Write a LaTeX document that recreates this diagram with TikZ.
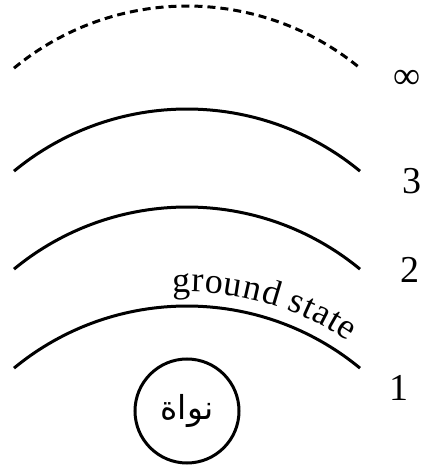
\documentclass[tikz,border=0pt]{standalone}
\usepackage{fontspec}
\setmainfont{Liberation Serif}
\newfontfamily\arabicfont[Script=Arabic]{DejaVu Sans}
\newfontfamily\symfont{DejaVu Serif}
\TeXXeTstate=1
\usetikzlibrary{decorations.text}
\tikzset{
  orbit/.style={line width=3pt},
  orbitdash/.style={line width=3pt, dash pattern=on 8pt off 5pt},
  lvl/.style={font=\fontsize{38}{42}\selectfont, inner sep=0pt},
  nucleus/.style={draw, circle, line width=3pt, minimum size=104pt, inner sep=0pt}
}
\newcommand{\gsfont}{\fontsize{36}{40}\selectfont}
\begin{document}
\begin{tikzpicture}
\useasboundingbox (0pt,0pt) rectangle (422pt,469pt);
% orbits (centres at x=187pt, radius 272pt)
\coordinate (cinf) at (187pt,191pt);
\coordinate (cthree) at (187pt,88pt);
\coordinate (ctwo) at (187pt,-10pt);
\coordinate (cone) at (187pt,-109pt);
\draw[orbitdash] ([shift={(129.5:272pt)}]cinf) arc[start angle=129.5,end angle=50.5,radius=272pt];
\draw[orbit] ([shift={(129.5:272pt)}]cthree) arc[start angle=129.5,end angle=50.5,radius=272pt];
\draw[orbit] ([shift={(129.5:272pt)}]ctwo) arc[start angle=129.5,end angle=50.5,radius=272pt];
\draw[orbit] ([shift={(129.5:272pt)}]cone) arc[start angle=129.5,end angle=50.5,radius=272pt];
% ground state label along orbit 1
\path[decorate, decoration={text along path, text={|\gsfont|ground state}, raise=14pt, text align=left}]
  ([shift={(93:272pt)}]cone) arc[start angle=93,end angle=40,radius=272pt];
% level labels
\node[lvl] (linf) at (407pt,390pt) {∞};
\node[lvl] (lthree) at (412pt,288pt) {3};
\node[lvl] (ltwo) at (410pt,199pt) {2};
\node[lvl] (lone) at (399pt,81pt) {1};
% nucleus
\node[nucleus] (nuc) at (187pt,58pt) {\arabicfont\fontsize{33}{36}\selectfont\beginR نواة\endR};
\end{tikzpicture}
\end{document}
